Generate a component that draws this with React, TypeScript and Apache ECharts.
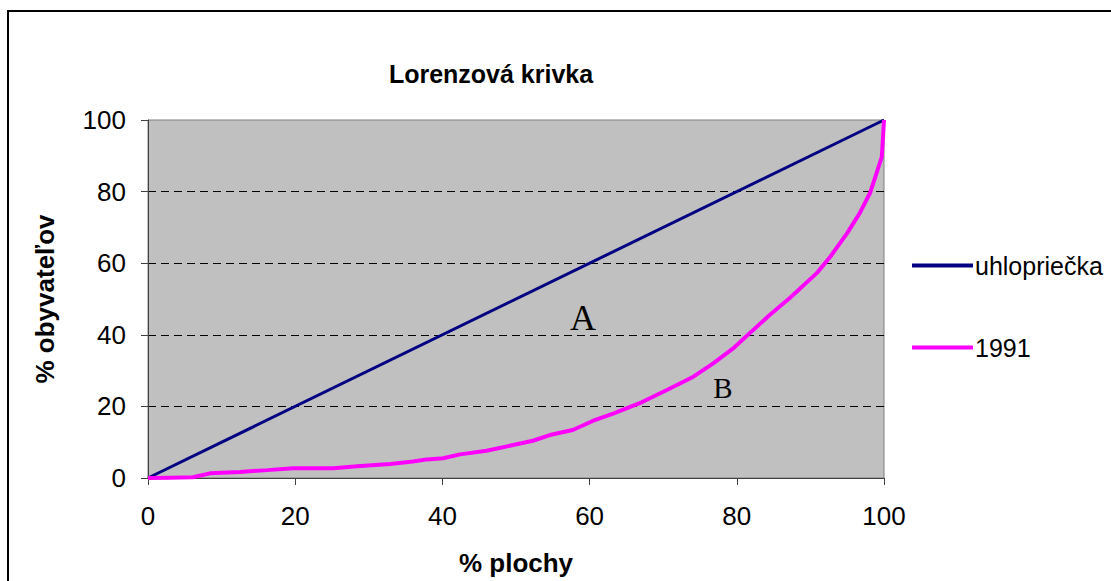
import React, { useEffect, useRef } from "react";
import * as echarts from "echarts";

const TITLE = "Lorenzová krivka";
const X_NAME = "% plochy";
const Y_NAME = "% obyvateľov";
const SERIES_DIAG = "uhlopriečka";
const SERIES_1991 = "1991";

const diagX = [0, 100];
const diagY = [0, 100];

const lorenzX = [0, 3, 6.1, 8.4, 12.5, 16.2, 19.7, 25.2, 28.4, 32.9, 36, 37.9, 40.1, 42.4, 46, 49.6, 52.3, 54.6, 57.7, 60.5, 63.2, 66.8, 70.5, 74.1, 76.8, 79.5, 82.2, 84.5, 87.2, 90.9, 92.7, 95, 96.7, 98.1, 99, 99.7, 99.9, 100];
const lorenzY = [0, 0.1, 0.2, 1.3, 1.7, 2.2, 2.7, 2.7, 3.3, 3.9, 4.6, 5.2, 5.5, 6.6, 7.6, 9.2, 10.4, 12, 13.4, 16, 18, 20.9, 24.6, 28.3, 32, 36.2, 41.3, 45.6, 50.3, 57.3, 61.8, 68.4, 74, 79.6, 85.2, 89.7, 96.4, 100];

const zip = (xs: number[], ys: number[]) => xs.map((x, i) => [x, ys[i]]);

export default function App() {
  const ref = useRef<HTMLDivElement>(null);
  useEffect(() => {
    if (!ref.current) return;
    const chart = echarts.init(ref.current, null, { renderer: "svg" });
    const font = "'Liberation Sans', Arial, sans-serif";
    chart.setOption({
      animation: false,
      backgroundColor: "#ffffff",
      textStyle: { fontFamily: font, color: "#000" },
      title: {
        text: TITLE,
        left: 486,
        textAlign: "center",
        top: 56,
        textStyle: { fontFamily: font, fontSize: 25, fontWeight: "bold", color: "#000" },
      },
      grid: {
        left: 148,
        right: 227,
        top: 120,
        bottom: 103,
        show: true,
        backgroundColor: "#C0C0C0",
        borderColor: "#808080",
        borderWidth: 1,
      },
      legend: {
        orient: "vertical",
        left: 907,
        top: 248,
        itemWidth: 61,
        itemHeight: 4,
        itemGap: 57,
        icon: "rect",
        textStyle: { fontFamily: font, fontSize: 25, color: "#000", padding: [0, 0, 0, -3] },
        data: [SERIES_DIAG, SERIES_1991],
      },
      xAxis: {
        type: "value",
        min: 0,
        max: 100,
        interval: 20,
        name: X_NAME,
        nameLocation: "middle",
        nameGap: 72,
        nameTextStyle: { fontFamily: font, fontSize: 26, fontWeight: "bold", color: "#000" },
        axisLine: { show: true, lineStyle: { color: "#404040", width: 1 } },
        axisTick: { show: true, length: 7, lineStyle: { color: "#404040" } },
        axisLabel: { fontFamily: font, fontSize: 26, color: "#000", margin: 25 },
        splitLine: { show: false },
      },
      yAxis: {
        type: "value",
        min: 0,
        max: 100,
        interval: 20,
        name: Y_NAME,
        nameLocation: "middle",
        nameGap: 90,
        nameTextStyle: { fontFamily: font, fontSize: 26, fontWeight: "bold", color: "#000" },
        axisLine: { show: true, lineStyle: { color: "#404040", width: 1 } },
        axisTick: { show: true, length: 7, lineStyle: { color: "#404040" } },
        axisLabel: { fontFamily: font, fontSize: 26, color: "#000", margin: 22 },
        splitLine: {
          show: true,
          showMinLine: false,
          showMaxLine: false,
          lineStyle: { color: "#000", type: [8, 5], width: 1 },
        },
      },
      graphic: [
        {
          type: "rect",
          silent: true,
          shape: { x: 8, y: 11, width: 1200, height: 700 },
          style: { fill: "none", stroke: "#000", lineWidth: 2 },
        },
        {
          type: "text",
          x: 583,
          y: 318,
          style: {
            text: "A",
            font: "36px 'Liberation Serif', 'Times New Roman', serif",
            fill: "#000",
            textAlign: "center",
            textVerticalAlign: "middle",
          },
        },
        {
          type: "text",
          x: 723,
          y: 388,
          style: {
            text: "B",
            font: "29px 'Liberation Serif', 'Times New Roman', serif",
            fill: "#000",
            textAlign: "center",
            textVerticalAlign: "middle",
          },
        },
      ],
      series: [
        {
          name: SERIES_DIAG,
          type: "line",
          data: zip(diagX, diagY),
          symbol: "none",
          lineStyle: { color: "#000080", width: 3 },
          itemStyle: { color: "#000080" },
        },
        {
          name: SERIES_1991,
          type: "line",
          data: zip(lorenzX, lorenzY),
          symbol: "none",
          lineStyle: { color: "#FF00FF", width: 4 },
          itemStyle: { color: "#FF00FF" },
        },
      ],
    });
    return () => chart.dispose();
  }, []);
  return (
    <div
      ref={ref}
      style={{ position: "fixed", left: 0, top: 0, width: 1111, height: 581 }}
    />
  );
}
